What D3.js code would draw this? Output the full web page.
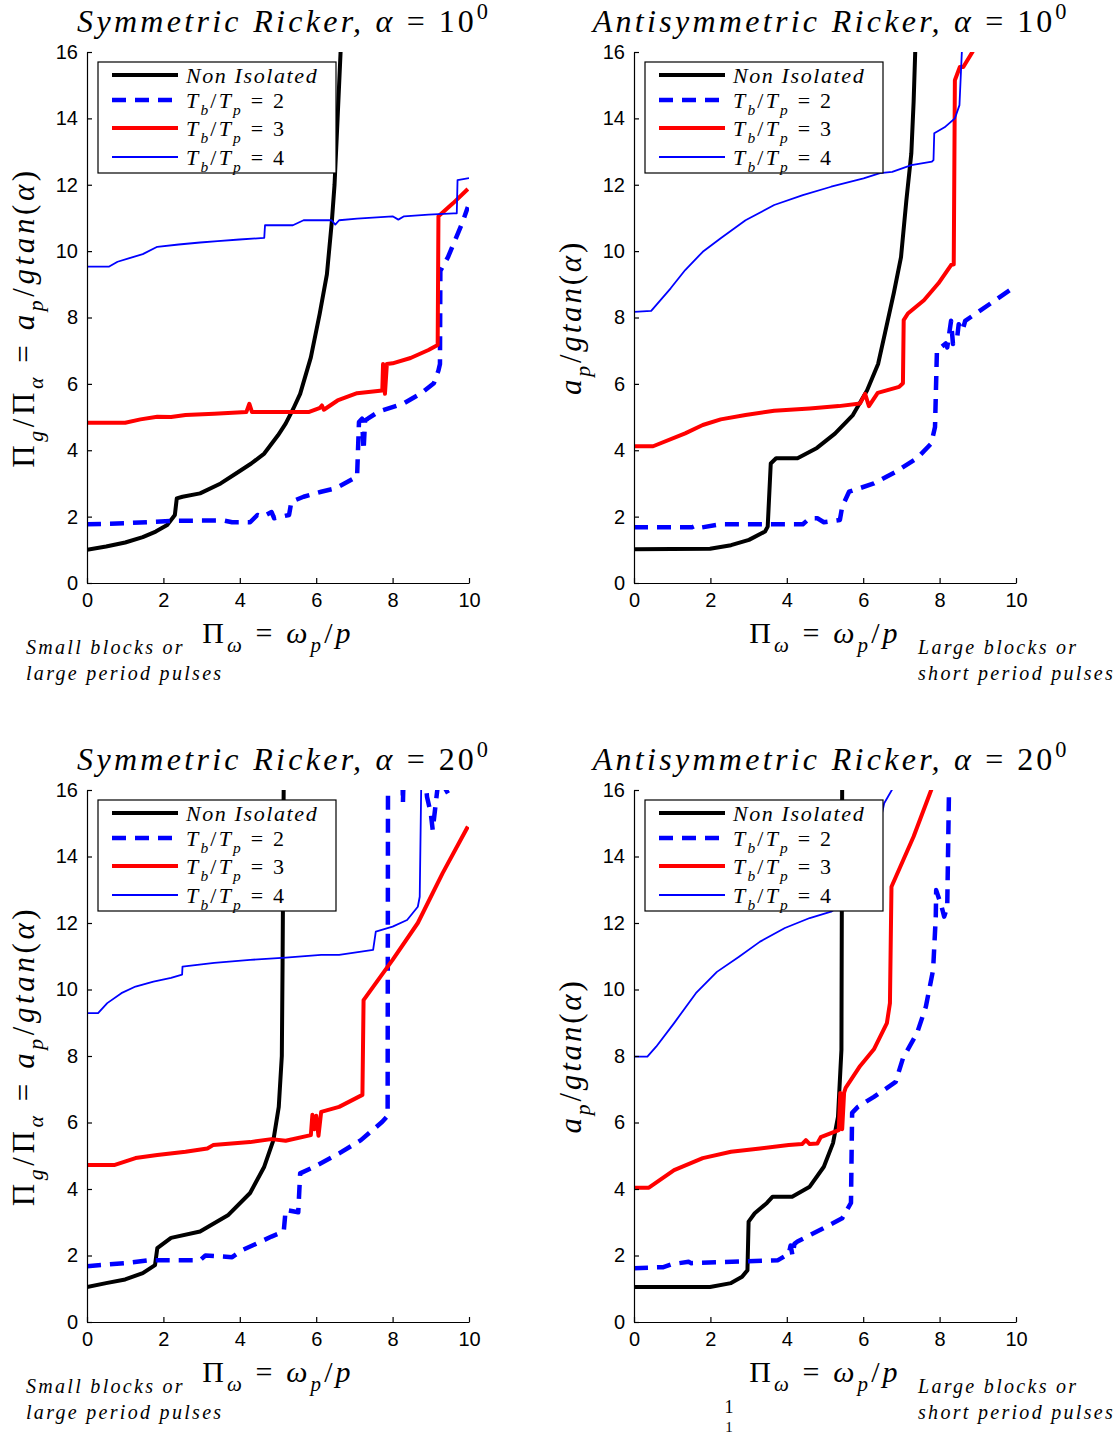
<!DOCTYPE html>
<html>
<head>
<meta charset="utf-8">
<script src="https://cdn.jsdelivr.net/npm/d3@7"></script>
<style>
body { margin: 0; background: #fff; }
text { white-space: pre; }
</style>
</head>
<body>
<div id="chart"></div>
<script>
var width = 1118;
var height = 1434;

var xTicks = [0, 2, 4, 6, 8, 10];
var yTicks = [0, 2, 4, 6, 8, 10, 12, 14, 16];
var seriesNames = ["Non Isolated", "2", "3", "4"];

// Symmetric Ricker, alpha = 10
var sym10NonIso = [[0,1.0],[0.5,1.1],[1.0,1.22],[1.46,1.38],[1.8,1.55],[2.1,1.75],[2.3,2.05],[2.35,2.55],[2.5,2.6],[2.96,2.7],[3.5,3.0],[3.9,3.3],[4.3,3.6],[4.64,3.9],[5.0,4.45],[5.2,4.8],[5.4,5.25],[5.58,5.7],[5.86,6.8],[6.09,8.1],[6.28,9.3],[6.41,10.9],[6.48,12.0],[6.56,14.0],[6.65,16.3]];
var sym10T2 = [[0,1.77],[1.0,1.8],[2.2,1.87],[3.0,1.88],[3.6,1.88],[3.8,1.83],[4.27,1.83],[4.46,2.05],[4.6,2.0],[4.83,2.14],[4.9,1.95],[5.29,2.05],[5.35,2.45],[5.67,2.6],[6.13,2.75],[6.5,2.85],[6.98,3.15],[7.07,3.2],[7.12,4.85],[7.2,4.95],[7.24,4.0],[7.28,4.9],[7.35,4.95],[7.63,5.16],[8.29,5.41],[8.75,5.72],[9.08,6.02],[9.2,6.4],[9.24,6.6],[9.25,9.4],[9.45,9.82],[9.82,10.84],[9.97,11.33]];
var sym10T3 = [[0,4.83],[1.0,4.83],[1.4,4.93],[1.84,5.01],[2.2,5.0],[2.58,5.06],[3.33,5.1],[4.17,5.15],[4.25,5.4],[4.32,5.15],[5.48,5.15],[5.8,5.15],[6.1,5.28],[6.15,5.35],[6.2,5.22],[6.56,5.5],[7.07,5.72],[7.73,5.8],[7.75,6.6],[7.8,5.7],[7.85,6.6],[8.0,6.62],[8.47,6.78],[8.94,7.02],[9.18,7.17],[9.2,11.05],[9.58,11.44],[9.97,11.87]];
var sym10T4 = [[0,9.53],[0.57,9.53],[0.8,9.68],[1.09,9.78],[1.46,9.91],[1.84,10.13],[2.4,10.2],[2.96,10.26],[3.42,10.3],[3.99,10.35],[4.64,10.4],[4.66,10.78],[5.39,10.78],[5.67,10.93],[6.4,10.93],[6.5,10.8],[6.6,10.93],[7.07,10.98],[8.0,11.05],[8.15,10.95],[8.3,11.05],[8.94,11.1],[9.6,11.14],[9.68,11.14],[9.7,12.14],[10,12.2]];

// Antisymmetric Ricker, alpha = 10
var anti10NonIso = [[0,1.02],[1.99,1.03],[2.54,1.14],[3.01,1.3],[3.43,1.55],[3.5,1.7],[3.58,3.6],[3.72,3.76],[4.28,3.76],[4.79,4.07],[5.26,4.5],[5.73,5.06],[6.1,5.8],[6.39,6.6],[6.57,7.53],[6.8,8.73],[6.99,9.82],[7.13,11.53],[7.26,12.95],[7.32,14.5],[7.37,16.3]];
var anti10T2 = [[0,1.68],[1.52,1.68],[1.6,1.72],[1.7,1.66],[2.27,1.77],[4.42,1.77],[4.6,1.95],[4.8,1.95],[4.97,1.83],[5.39,1.9],[5.45,2.3],[5.63,2.75],[6.28,3.0],[6.85,3.35],[7.41,3.76],[7.78,4.2],[7.88,4.7],[7.93,7.0],[8.16,7.22],[8.2,7.1],[8.3,7.9],[8.35,7.2],[8.46,7.4],[8.5,7.8],[8.6,7.6],[8.67,7.9],[9.08,8.22],[9.96,8.92]];
var anti10T3 = [[0,4.12],[0.5,4.12],[1.34,4.51],[1.8,4.76],[2.27,4.93],[2.92,5.06],[3.67,5.19],[4.6,5.26],[5.36,5.33],[5.92,5.41],[6.05,5.7],[6.15,5.33],[6.38,5.73],[6.94,5.91],[7.04,6.02],[7.06,7.92],[7.17,8.12],[7.59,8.52],[7.97,9.03],[8.3,9.58],[8.37,9.6],[8.4,15.15],[8.53,15.55],[8.62,15.55],[8.86,16.0],[9.0,16.4]];
var anti10T4 = [[0,8.17],[0.45,8.2],[0.96,8.88],[1.34,9.43],[1.8,9.98],[2.27,10.39],[2.92,10.93],[3.67,11.39],[4.42,11.69],[5.16,11.94],[6.01,12.19],[6.44,12.35],[6.76,12.39],[7.26,12.59],[7.8,12.7],[7.84,12.74],[7.86,13.55],[8.13,13.73],[8.4,14.0],[8.52,14.4],[8.59,16.2]];

// Symmetric Ricker, alpha = 20
var sym20NonIso = [[0,1.05],[0.5,1.17],[1.0,1.28],[1.46,1.47],[1.78,1.71],[1.84,2.22],[2.2,2.53],[2.96,2.72],[3.7,3.22],[4.27,3.88],[4.64,4.67],[4.88,5.47],[5.02,6.47],[5.1,8.0],[5.12,10.8],[5.15,16.3]];
var sym20T2 = [[0,1.68],[1.0,1.77],[1.65,1.86],[2.96,1.86],[3.1,2.0],[3.8,1.95],[4.08,2.17],[4.46,2.37],[4.83,2.57],[5.15,2.72],[5.2,3.37],[5.53,3.3],[5.58,4.47],[5.95,4.67],[6.6,5.07],[7.17,5.47],[7.73,6.02],[7.87,6.2],[7.88,17],[8.25,17],[8.27,15.6],[8.3,17],[8.85,16.5],[8.9,15.8],[9.0,15.3],[9.05,14.8],[9.12,15.5],[9.2,16.3],[9.35,16.1],[9.45,15.9]];
var sym20T3 = [[0,4.72],[0.71,4.72],[1.27,4.93],[1.84,5.02],[2.58,5.12],[3.15,5.22],[3.3,5.32],[4.27,5.41],[4.83,5.5],[5.2,5.45],[5.86,5.62],[5.9,6.23],[5.95,5.8],[6.0,6.2],[6.06,5.6],[6.13,6.32],[6.6,6.47],[7.21,6.83],[7.24,9.68],[8.0,10.89],[8.66,12.0],[9.31,13.5],[9.97,14.9]];
var sym20T4 = [[0,9.29],[0.29,9.29],[0.53,9.59],[0.9,9.89],[1.27,10.09],[1.74,10.24],[2.2,10.35],[2.49,10.45],[2.5,10.69],[3.33,10.8],[4.27,10.89],[5.2,10.96],[6.13,11.04],[6.6,11.04],[7.49,11.19],[7.56,11.74],[8.0,11.89],[8.38,12.09],[8.66,12.49],[8.71,12.79],[8.75,16.2]];

// Antisymmetric Ricker, alpha = 20
var anti20NonIso = [[0,1.05],[1.99,1.05],[2.54,1.17],[2.83,1.36],[2.97,1.56],[3.0,3.02],[3.16,3.27],[3.48,3.58],[3.63,3.77],[4.14,3.77],[4.6,4.07],[4.97,4.67],[5.21,5.38],[5.34,6.17],[5.43,8.18],[5.45,16.3]];
var anti20T2 = [[0,1.62],[0.77,1.65],[1.0,1.74],[1.43,1.81],[1.5,1.77],[3.77,1.86],[4.05,2.05],[4.1,2.3],[4.15,2.0],[4.2,2.35],[4.28,2.42],[4.79,2.72],[5.45,3.12],[5.68,3.58],[5.71,6.29],[5.86,6.47],[6.28,6.77],[6.85,7.22],[7.04,7.93],[7.41,8.69],[7.64,9.48],[7.83,10.59],[7.9,12.19],[7.91,12.99],[8.05,12.5],[8.12,12.19],[8.2,12.49],[8.25,16.3]];
var anti20T3 = [[0,4.04],[0.39,4.04],[1.05,4.57],[1.8,4.93],[2.54,5.12],[3.3,5.22],[4.05,5.32],[4.4,5.35],[4.5,5.47],[4.6,5.35],[4.8,5.37],[4.89,5.56],[5.36,5.77],[5.4,6.89],[5.45,5.8],[5.5,6.9],[5.54,7.04],[5.92,7.7],[6.28,8.2],[6.62,8.99],[6.7,9.59],[6.74,13.09],[7.32,14.6],[7.78,16.0],[7.9,16.4]];
var anti20T4 = [[0,7.98],[0.35,7.98],[0.58,8.28],[1.05,8.99],[1.62,9.89],[2.17,10.53],[2.74,10.98],[3.3,11.44],[3.95,11.85],[4.6,12.15],[5.16,12.34],[5.6,12.7],[6.0,13.4],[6.3,14.3],[6.55,15.6],[6.8,16.1]];

var styles = [
  {color: "#000000", width: 4, dash: null},
  {color: "#0000ff", width: 4.5, dash: "14,9"},
  {color: "#ff0000", width: 4, dash: null},
  {color: "#0000ff", width: 1.8, dash: null}
];

var panels = [
  {left: 87, top: 52, h: 531, kind: "Symmetric", angle: "10", ylab: "long", note: "left", series: [sym10NonIso, sym10T2, sym10T3, sym10T4]},
  {left: 634, top: 52, h: 531, kind: "Antisymmetric", angle: "10", ylab: "short", note: "right", series: [anti10NonIso, anti10T2, anti10T3, anti10T4]},
  {left: 87, top: 790, h: 532, kind: "Symmetric", angle: "20", ylab: "long", note: "left", series: [sym20NonIso, sym20T2, sym20T3, sym20T4]},
  {left: 634, top: 790, h: 532, kind: "Antisymmetric", angle: "20", ylab: "short", note: "right", series: [anti20NonIso, anti20T2, anti20T3, anti20T4]}
];

var serif = "'Liberation Serif', 'DejaVu Serif', serif";
var sans = "'Liberation Sans', Arial, sans-serif";

var svg = d3.select("#chart").append("svg")
  .attr("width", width)
  .attr("height", height)
  .style("display", "block");

// pieces: [text, kind]  i = italic, r = roman, bi = italic subscript, pr = roman superscript
// si = letter spacing of italic pieces, sr = of roman pieces
function mathText(sel, parts, size, si, sr) {
  var shift = 0;
  parts.forEach(function(p) {
    var k = p[1], s = 0, fs = size;
    var roman = (k === "r" || k === "pr");
    if (k === "bi") { s = size * 0.3; fs = size * 0.7; }
    if (k === "pr") { s = -size * 0.42; fs = size * 0.7; }
    sel.append("tspan")
      .attr("dy", s - shift)
      .style("font-size", fs + "px")
      .style("font-style", roman ? "normal" : "italic")
      .style("letter-spacing", (roman ? sr : si) + "px")
      .text(p[0]);
    shift = s;
  });
}

var w = 382;

panels.forEach(function(P, pi) {
  var x = d3.scaleLinear().domain([0, 10]).range([0, w]);
  var y = d3.scaleLinear().domain([0, 16]).range([P.h, 0]);

  var g = svg.append("g").attr("transform", "translate(" + P.left + "," + P.top + ")");

  g.append("clipPath").attr("id", "clip" + pi)
    .append("rect").attr("width", w).attr("height", P.h);

  var line = d3.line().x(function(d) { return x(d[0]); }).y(function(d) { return y(d[1]); });

  g.append("g").attr("clip-path", "url(#clip" + pi + ")")
    .selectAll("path")
    .data(P.series)
    .enter().append("path")
    .attr("d", line)
    .attr("fill", "none")
    .attr("stroke", function(d, i) { return styles[i].color; })
    .attr("stroke-width", function(d, i) { return styles[i].width; })
    .attr("stroke-dasharray", function(d, i) { return styles[i].dash; })
    .attr("stroke-linejoin", "round");

  var yAxis = g.append("g")
    .call(d3.axisLeft(y).tickValues(yTicks).tickSizeInner(-5).tickSizeOuter(0).tickPadding(9));
  var xAxis = g.append("g").attr("transform", "translate(0," + P.h + ")")
    .call(d3.axisBottom(x).tickValues(xTicks).tickSizeInner(-5).tickSizeOuter(0).tickPadding(10));
  [xAxis, yAxis].forEach(function(a) {
    a.selectAll("text").style("font-family", sans).style("font-size", "20px").attr("fill", "#000");
    a.selectAll("line, path").attr("stroke", "#000").attr("stroke-width", 1.2);
  });

  // title
  var title = g.append("text")
    .attr("x", w / 2 + 6).attr("y", -20)
    .attr("text-anchor", "middle")
    .style("font-family", serif);
  mathText(title, [[P.kind + " Ricker, ", "i"], ["α", "i"], [" = " + P.angle, "r"], ["0", "pr"]], 32, 3.3, 3);

  // y label
  var ylab = g.append("text")
    .attr("transform", "translate(-53," + (P.h / 2) + ") rotate(-90)")
    .attr("text-anchor", "middle")
    .style("font-family", serif);
  if (P.ylab === "long") {
    mathText(ylab, [["Π", "r"], ["g", "bi"], ["/Π", "r"], ["α", "bi"], [" = ", "r"], ["a", "i"], ["p", "bi"], ["/", "r"], ["gtan", "i"], ["(", "r"], ["α", "i"], [")", "r"]], 31, 3.6, 3.6);
  } else {
    mathText(ylab, [["a", "i"], ["p", "bi"], ["/", "r"], ["gtan", "i"], ["(", "r"], ["α", "i"], [")", "r"]], 31, 2.8, 2.8);
  }

  // x label
  var xlab = g.append("text")
    .attr("x", w / 2).attr("y", P.h + 60)
    .attr("text-anchor", "middle")
    .style("font-family", serif);
  mathText(xlab, [["Π", "r"], ["ω", "bi"], [" = ", "r"], ["ω", "i"], ["p", "bi"], ["/", "r"], ["p", "i"]], 30, 3.1, 3.1);

  // notes under the axis
  var notes = P.note === "left" ? ["Small blocks or", "large period pulses"] : ["Large blocks or", "short period pulses"];
  var nx = P.note === "left" ? 26 - P.left : 918 - P.left;
  notes.forEach(function(t, i) {
    g.append("text")
      .attr("x", nx).attr("y", P.h + 71 + i * 26)
      .style("font-family", serif).style("font-style", "italic")
      .style("font-size", "20px").style("letter-spacing", "2.3px")
      .text(t);
  });

  // legend
  var lg = g.append("g").attr("transform", "translate(11,10)");
  lg.append("rect").attr("width", 238).attr("height", 111)
    .attr("fill", "#fff").attr("stroke", "#000").attr("stroke-width", 1.2);
  var rows = [13, 38, 66, 95];
  seriesNames.forEach(function(name, i) {
    var st = styles[i];
    lg.append("line")
      .attr("x1", 14).attr("x2", 80).attr("y1", rows[i]).attr("y2", rows[i])
      .attr("stroke", st.color).attr("stroke-width", st.width)
      .attr("stroke-dasharray", st.dash);
    var t = lg.append("text").attr("x", 88).attr("y", rows[i] + 8).style("font-family", serif);
    if (i === 0) {
      mathText(t, [[name, "i"]], 22, 1.6, 1.6);
    } else {
      mathText(t, [["T", "i"], ["b", "bi"], ["/", "r"], ["T", "i"], ["p", "bi"], [" = " + name, "r"]], 22, 2.2, 2.2);
    }
  });
});

// stray page number fragment at the bottom
svg.append("text").attr("x", 729).attr("y", 1413).attr("text-anchor", "middle")
  .style("font-family", serif).style("font-size", "18px").text("1");
svg.append("text").attr("x", 729).attr("y", 1432).attr("text-anchor", "middle")
  .style("font-family", serif).style("font-size", "15px").text("1");
</script>
</body>
</html>
